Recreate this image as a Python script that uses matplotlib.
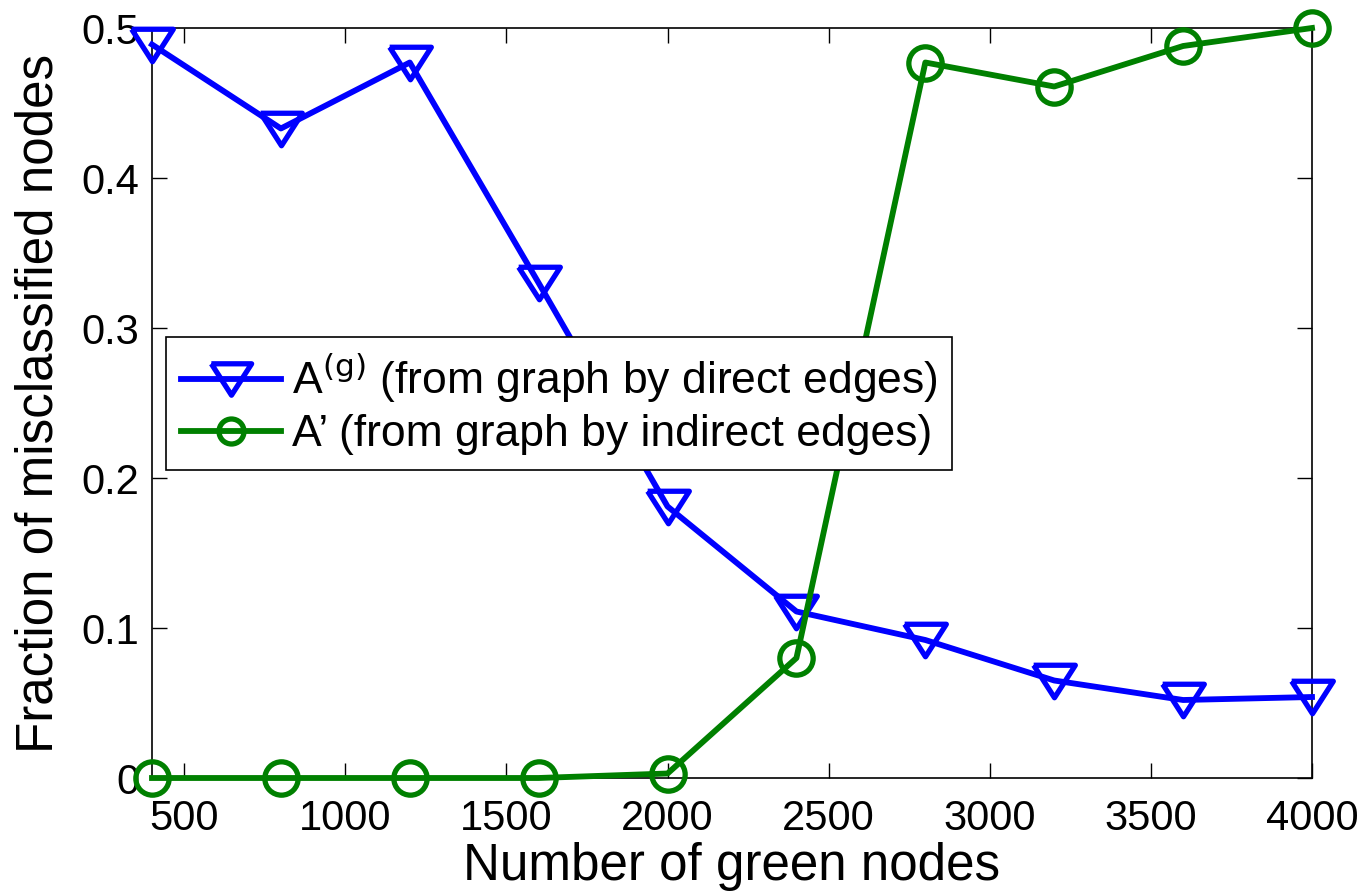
import numpy as np
import matplotlib.pyplot as plt

plt.rcParams['font.family'] = ['Liberation Sans', 'DejaVu Sans']

green_nodes = [400, 800, 1200, 1600, 2000, 2400, 2800, 3200, 3600, 4000]
frac_direct = [0.489, 0.433, 0.477, 0.330, 0.181, 0.111, 0.092, 0.065, 0.052, 0.054]
frac_indirect = [0.0, 0.0, 0.0, 0.0, 0.003, 0.080, 0.477, 0.461, 0.488, 0.500]

xticks = [500, 1000, 1500, 2000, 2500, 3000, 3500, 4000]
yticks = [0, 0.1, 0.2, 0.3, 0.4, 0.5]
yticklabels = ['0', '0.1', '0.2', '0.3', '0.4', '0.5']

# wide, flat down-triangle like matlab's 'v'
tri = [(-1, 0.78), (1, 0.78), (0, -0.78), (-1, 0.78)]

fig = plt.figure(figsize=(13.66, 8.93), dpi=100)
ax = fig.add_axes([152/1366, 1-778/893, 1160/1366, 750/893])

ax.plot(green_nodes, frac_direct, color=(0, 0, 1), lw=4.2, marker=tri,
        markersize=30, markerfacecolor='none', markeredgewidth=3.8,
        clip_on=False, zorder=3, label=r'A$^{(\mathrm{g})}$ (from graph by direct edges)')
ax.plot(green_nodes, frac_indirect, color=(0, 0.5, 0), lw=4.2, marker='o',
        markersize=24, markerfacecolor='none', markeredgewidth=3.8,
        clip_on=False, zorder=3, label='A’ (from graph by indirect edges)')

ax.set_xlim(400, 4000)
ax.set_ylim(0, 0.5)
ax.set_xticks(xticks)
ax.set_yticks(yticks)
ax.set_yticklabels(yticklabels)
ax.tick_params(direction='in', length=11, width=1, top=True, right=True,
               labelsize=30)
ax.tick_params(axis='x', pad=15)
ax.tick_params(axis='y', pad=9)
for s in ax.spines.values():
    s.set_linewidth(1.2)

ax.set_xlabel('Number of green nodes', fontsize=36.8, labelpad=2)
ax.set_ylabel('Fraction of misclassified nodes', fontsize=36.8, labelpad=13)

leg = ax.legend(loc='upper left', bbox_to_anchor=(0.012, 0.588), borderaxespad=0,
                fontsize=32, fancybox=False, framealpha=1, edgecolor='black',
                handlelength=2.25, handletextpad=0.25, borderpad=0.33, labelspacing=0.2)
leg.get_frame().set_linewidth(1.2)
leg.legend_handles[0].set_markersize(29)
leg.legend_handles[1].set_markersize(18)

fig.savefig('out.png', dpi=100)
